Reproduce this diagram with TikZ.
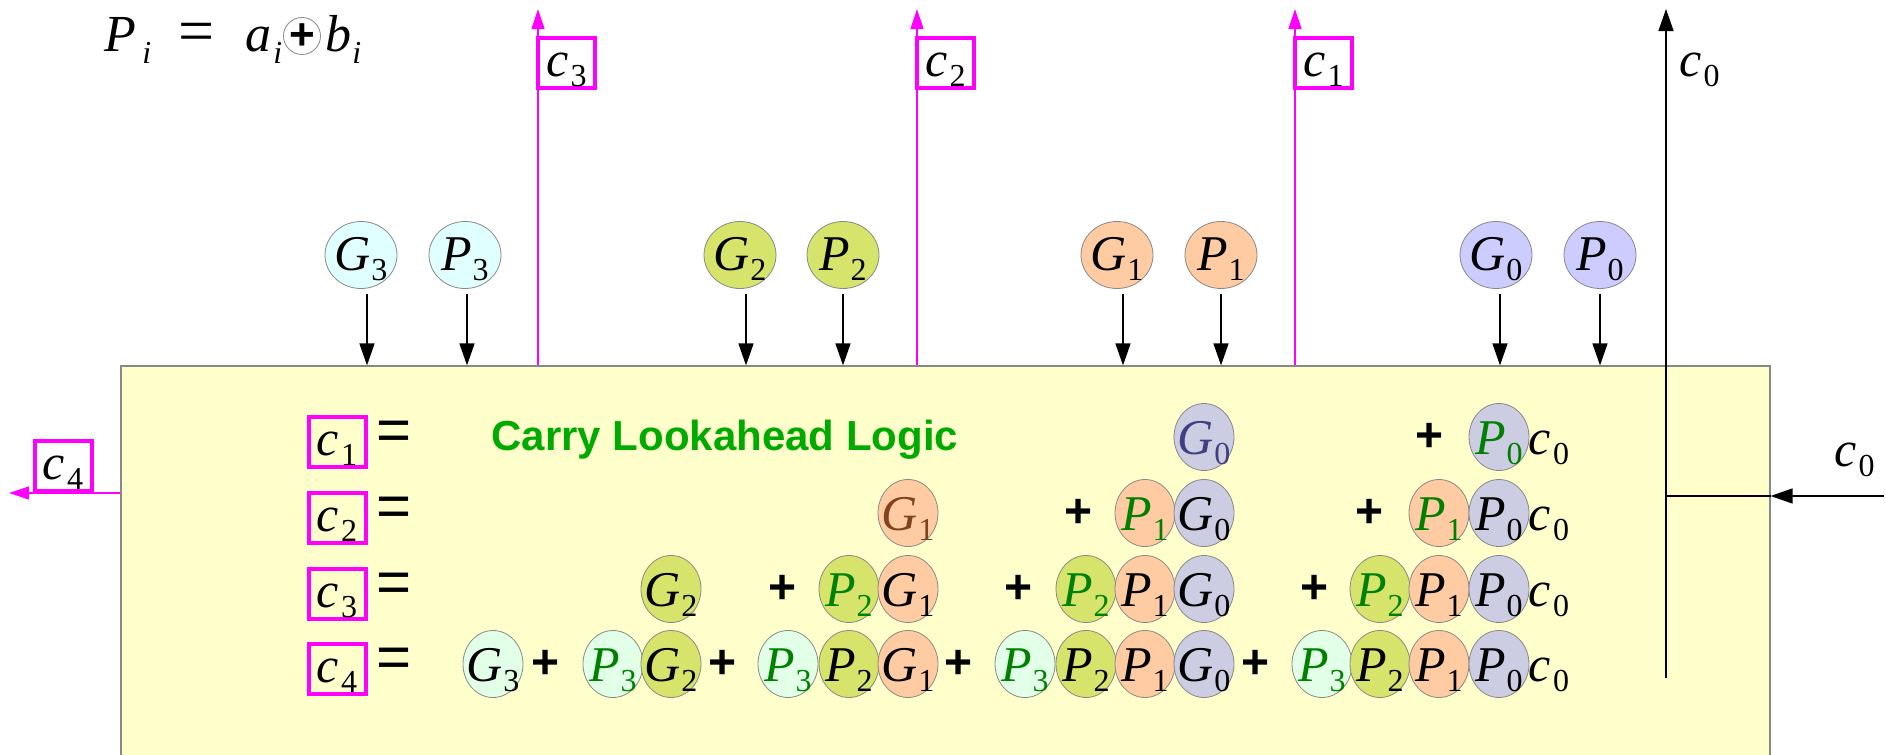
\documentclass[tikz,border=0pt]{standalone}
\usepackage{fontspec}
\setmainfont{Liberation Serif}
\newfontfamily\lsans{Liberation Sans}
\usetikzlibrary{shapes.geometric,arrows.meta}
\pgfdeclarelayer{back}
\pgfdeclarelayer{bg}
\pgfsetlayers{back,bg,main}
\definecolor{ylw}{HTML}{FFFFCC}
\definecolor{mag}{HTML}{FF00FF}
\definecolor{cyanf}{HTML}{E0FFFF}
\definecolor{mintf}{HTML}{E2FFE8}
\definecolor{olivef}{HTML}{D6E46C}
\definecolor{peachf}{HTML}{FFCBA2}
\definecolor{lavtop}{HTML}{CCCCFF}
\definecolor{lavrow}{HTML}{CCCCE2}
\definecolor{pgreen}{HTML}{008000}
\definecolor{tgreen}{HTML}{00AA00}
\definecolor{gblue}{HTML}{404080}
\definecolor{gbrown}{HTML}{80421F}
\definecolor{edge}{HTML}{888888}
\newcommand\sy[3][black]{{\color{#1}\fontsize{25}{25}\selectfont\itshape #2\kern0.3pt\raisebox{-5pt}{\fontsize{16}{16}\selectfont\upshape #3}}}
\newcommand\cc[1]{{\fontsize{25}{25}\selectfont\itshape c\kern1pt\raisebox{-5pt}{\fontsize{16}{16}\selectfont\upshape #1}}}
\tikzset{
  bub/.style={ellipse, draw=edge, line width=0.4pt, inner sep=0pt, minimum width=30pt, minimum height=33.5pt},
  tbub/.style={bub, minimum width=36pt, minimum height=33.5pt},
  lbl/.style={anchor=base, inner sep=0pt},
  rlbl/.style={lbl, yshift=-8.8pt},
  blbl/.style={lbl, yshift=-6.5pt},
  mbox/.style={draw=mag, line width=2pt, inner sep=0pt, minimum width=28.5pt, minimum height=25pt},
  plus/.style={font=\lsans\bfseries\fontsize{24}{24}\selectfont, inner sep=0pt},
  eqs/.style={font=\lsans\fontsize{30}{30}\selectfont, inner sep=0pt},
  arr/.style={-{Triangle[length=11pt,width=7.5pt]}, line width=0.7pt},
  marr/.style={mag, line width=0.6pt, -{Triangle[length=10pt,width=6.5pt]}},
}
% row bubble: name, x, y, fill, content
\newcommand\rb[5]{%
  \begin{pgfonlayer}{bg}\node[bub,fill=#4] (#1) at (#2,#3) {};\end{pgfonlayer}
  \node[rlbl] (#1t) at (#1.center) {#5};}
\newcommand\tb[5]{%
  \begin{pgfonlayer}{bg}\node[tbub,fill=#4] (#1) at (#2,#3) {};\end{pgfonlayer}
  \node[rlbl, yshift=1pt] (#1t) at (#1.center) {#5};}
\begin{document}
\begin{tikzpicture}[x=0.5pt,y=-0.5pt]
\useasboundingbox (0,0) rectangle (1886,755);
% yellow box
\begin{pgfonlayer}{back}
\node[fill=ylw, draw=edge, line width=0.6pt, inner sep=0pt, minimum width=824.5pt, minimum height=210pt] (clb) at (945.5,576) {};
\end{pgfonlayer}

% top formula
\node[anchor=base west, inner sep=0pt, font=\fontsize{26}{26}\selectfont\itshape] (pP) at (104,51) {P};
\node[anchor=base west, inner sep=0pt, font=\fontsize{16}{16}\selectfont\itshape] (pPi) at (142,63) {i};
\node[inner sep=0pt, font=\fontsize{32}{32}\selectfont] (peq) at (197,38) {=};
\node[anchor=base west, inner sep=0pt, font=\fontsize{26}{26}\selectfont\itshape] (pa) at (245,51) {a};
\node[anchor=base west, inner sep=0pt, font=\fontsize{16}{16}\selectfont\itshape] (pai) at (273,63) {i};
\node[circle, draw=edge, line width=0.4pt, minimum size=18.5pt, inner sep=0pt] (pox) at (302,36) {};
\node[plus, font=\lsans\bfseries\fontsize{22}{22}\selectfont] (poxp) at (302,37) {+};
\node[anchor=base west, inner sep=0pt, font=\fontsize{26}{26}\selectfont\itshape] (pb) at (325,51) {b};
\node[anchor=base west, inner sep=0pt, font=\fontsize{16}{16}\selectfont\itshape] (pbi) at (352,63) {i};

% top bubbles
\tb{tG3}{361}{255}{cyanf}{\sy{G}{3}}
\tb{tP3}{465}{255}{cyanf}{\sy{P}{3}}
\tb{tG2}{740}{255}{olivef}{\sy{G}{2}}
\tb{tP2}{843}{255}{olivef}{\sy{P}{2}}
\tb{tG1}{1117}{255}{peachf}{\sy{G}{1}}
\tb{tP1}{1221}{255}{peachf}{\sy{P}{1}}
\tb{tG0}{1496}{255}{lavtop}{\sy{G}{0}}
\tb{tP0}{1600}{255}{lavtop}{\sy{P}{0}}
\foreach \n/\dx in {tG3/3pt,tP3/1pt,tG2/3pt,tP2/0pt,tG1/3pt,tP1/0pt,tG0/2pt,tP0/0pt}{
  \draw[arr] ([xshift=\dx,yshift=-2.5pt]\n.south) -- ([xshift=\dx]\n.south |- clb.north);
}

% carry outputs
\coordinate (c3top) at (538,9);
\coordinate (c2top) at (917,9);
\coordinate (c1top) at (1295,9);
\draw[marr] (c3top |- clb.north) -- (c3top);
\draw[marr] (c2top |- clb.north) -- (c2top);
\draw[marr] (c1top |- clb.north) -- (c1top);
\node[mbox, fill=white] (bc3) at (566.5,63) {};
\node[blbl] (bc3t) at (bc3.center) {\cc{3}};
\node[mbox, fill=white] (bc2) at (945.5,63) {};
\node[blbl] (bc2t) at (bc2.center) {\cc{2}};
\node[mbox, fill=white] (bc1) at (1323.5,63) {};
\node[blbl] (bc1t) at (bc1.center) {\cc{1}};

% c4 output
\coordinate (c4end) at (9,493);
\draw[marr] (clb.west |- c4end) -- (c4end);
\node[mbox, fill=white] (bc4) at (63,466) {};
\node[blbl] (bc4t) at (bc4.center) {\cc{4}};

% c0 input
\coordinate (c0in) at (1884,496);
\coordinate (c0j) at (1666,496);
\coordinate (c0top) at (1666,9);
\coordinate (c0bot) at (1666,678);
\draw[arr] (c0in) -- (c0in -| clb.east);
\draw[line width=0.7pt] (c0in -| clb.east) -- (c0j);
\draw[arr] (c0bot) -- (c0top);
\node[lbl, anchor=base west] (c0lt) at (1679,76) {\cc{0}};
\node[lbl, anchor=base west] (c0lr) at (1834,466) {\cc{0}};

% title
\node[anchor=base west, inner sep=0pt, text=tgreen, font=\lsans\bfseries\fontsize{21}{21}\selectfont] (title) at (491,450) {Carry Lookahead Logic};

% left labels
\foreach \r/\y in {1/437,2/513,3/589,4/664}{
  \node[mbox] (lc\r) at (337,\y+5) {};
  \node[blbl] (lc\r t) at (lc\r.center) {\cc{\r}};
  \node[eqs] (leq\r) at (394,\y-1) {=};
}

% row 1
\rb{a1}{1204}{437}{lavrow}{\sy[gblue]{G}{0}}
\node[plus] (a1p1) at (1430,437) {+};
\rb{a2}{1499}{437}{lavrow}{\sy[pgreen]{P}{0}}
\node[rlbl] (a1c) at (1549,437) {\cc{0}};

% row 2
\rb{b1}{908}{513}{peachf}{\sy[gbrown]{G}{1}}
\node[plus] (b1p1) at (1079,513) {+};
\rb{b2}{1145}{513}{peachf}{\sy[pgreen]{P}{1}}
\rb{b3}{1204}{513}{lavrow}{\sy{G}{0}}
\node[plus] (b1p2) at (1370,513) {+};
\rb{b4}{1439}{513}{peachf}{\sy[pgreen]{P}{1}}
\rb{b5}{1499}{513}{lavrow}{\sy{P}{0}}
\node[rlbl] (b1c) at (1549,513) {\cc{0}};

% row 3
\rb{d1}{671}{589}{olivef}{\sy{G}{2}}
\node[plus] (d1p1) at (783,589) {+};
\rb{d2}{849}{589}{olivef}{\sy[pgreen]{P}{2}}
\rb{d3}{908}{589}{peachf}{\sy{G}{1}}
\node[plus] (d1p2) at (1019,589) {+};
\rb{d4}{1086}{589}{olivef}{\sy[pgreen]{P}{2}}
\rb{d5}{1145}{589}{peachf}{\sy{P}{1}}
\rb{d6}{1204}{589}{lavrow}{\sy{G}{0}}
\node[plus] (d1p3) at (1315,589) {+};
\rb{d7}{1380}{589}{olivef}{\sy[pgreen]{P}{2}}
\rb{d8}{1439}{589}{peachf}{\sy{P}{1}}
\rb{d9}{1499}{589}{lavrow}{\sy{P}{0}}
\node[rlbl] (d1c) at (1549,589) {\cc{0}};

% row 4
\rb{e1}{493}{664}{mintf}{\sy{G}{3}}
\node[plus] (e1p1) at (546,664) {+};
\rb{e2}{613}{664}{mintf}{\sy[pgreen]{P}{3}}
\rb{e3}{671}{664}{olivef}{\sy{G}{2}}
\node[plus] (e1p2) at (723,664) {+};
\rb{e4}{788}{664}{mintf}{\sy[pgreen]{P}{3}}
\rb{e5}{849}{664}{olivef}{\sy{P}{2}}
\rb{e6}{908}{664}{peachf}{\sy{G}{1}}
\node[plus] (e1p3) at (959,664) {+};
\rb{e7}{1025}{664}{mintf}{\sy[pgreen]{P}{3}}
\rb{e8}{1086}{664}{olivef}{\sy{P}{2}}
\rb{e9}{1145}{664}{peachf}{\sy{P}{1}}
\rb{e10}{1204}{664}{lavrow}{\sy{G}{0}}
\node[plus] (e1p4) at (1256,664) {+};
\rb{e11}{1322}{664}{mintf}{\sy[pgreen]{P}{3}}
\rb{e12}{1380}{664}{olivef}{\sy{P}{2}}
\rb{e13}{1439}{664}{peachf}{\sy{P}{1}}
\rb{e14}{1499}{664}{lavrow}{\sy{P}{0}}
\node[rlbl] (e1c) at (1549,664) {\cc{0}};
\end{tikzpicture}
\end{document}
